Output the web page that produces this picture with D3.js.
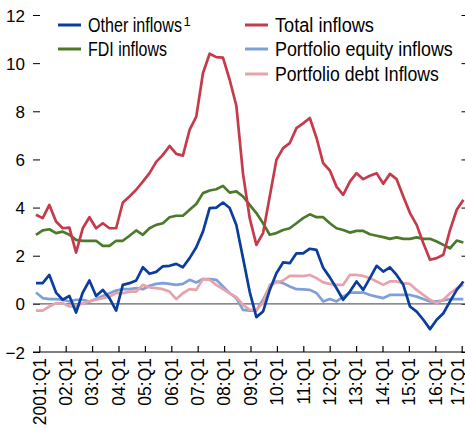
<!DOCTYPE html>
<html><head><meta charset="utf-8">
<script src="https://cdn.jsdelivr.net/npm/d3@7"></script>
<style>
html,body{margin:0;padding:0;background:#fff;}
svg text{font-family:"Liberation Sans",Arial,sans-serif;fill:#000;}
</style></head><body>
<svg id="chart" width="465" height="428"></svg>
<script>
// ---- data ----
const quarters = [];
for (let yr = 2001; yr <= 2017; yr++) for (let q = 1; q <= 4; q++) if (!(yr === 2017 && q > 1)) quarters.push(yr + ":Q" + q);
const tickLabels = ["2001:Q1","02:Q1","03:Q1","04:Q1","05:Q1","06:Q1","07:Q1","08:Q1","09:Q1","10:Q1","11:Q1","12:Q1","13:Q1","14:Q1","15:Q1","16:Q1","17:Q1"];
const yTicks = [-2,0,2,4,6,8,10,12];

const otherInflows = [0.86,0.86,1.20,0.47,0.17,0.33,-0.36,0.47,0.97,0.33, 0.58,0.24,-0.28,0.79,0.86,0.97,1.52,1.25,1.33,1.56, 1.58,1.66,1.52,1.90,2.35,3.00,3.98,4.00,4.21,3.98, 3.28,1.90,0.50,-0.55,-0.32,0.58,1.27,1.72,1.69,2.10, 2.10,2.29,2.24,1.50,1.10,0.65,0.17,0.51,0.93,0.58, 1.07,1.58,1.34,1.52,1.20,0.79,-0.11,-0.32,-0.66,-1.05, -0.66,-0.39,0.10,0.58,0.93];
const totalInflows = [3.70,3.56,4.11,3.42,3.14,3.17,2.13,3.14,3.60,3.14, 3.35,3.14,3.14,4.21,4.46,4.74,5.08,5.43,5.90,6.19, 6.56,6.23,6.16,7.23,7.78,9.58,10.39,10.25,10.23,9.31, 8.23,5.40,3.56,2.45,2.94,4.46,5.98,6.47,6.68,7.30, 7.50,7.72,6.90,5.85,5.54,4.87,4.53,5.08,5.43,5.18, 5.32,5.43,4.99,5.40,5.18,4.46,3.77,3.28,2.52,1.83, 1.90,2.04,3.07,3.91,4.32];
const fdiInflows = [2.87,3.05,3.10,2.94,3.00,2.87,2.66,2.62,2.62,2.62, 2.41,2.41,2.62,2.62,2.83,3.05,2.87,3.14,3.28,3.35, 3.60,3.66,3.66,3.91,4.15,4.60,4.71,4.76,4.90,4.62, 4.67,4.46,4.11,3.77,3.35,2.87,2.94,3.07,3.14,3.35, 3.56,3.72,3.60,3.60,3.35,3.14,3.07,2.96,3.03,3.03, 2.89,2.83,2.77,2.70,2.76,2.70,2.70,2.76,2.70,2.70, 2.59,2.45,2.31,2.63,2.55];
const equityInflows = [0.47,0.24,0.20,0.20,0.17,0.10,0.17,0.17,0.10,0.20, 0.33,0.44,0.55,0.61,0.61,0.65,0.61,0.75,0.83,0.86, 0.83,0.79,0.83,1.00,0.89,1.03,1.03,1.00,0.72,0.44, 0.24,-0.25,-0.28,-0.28,0.17,0.72,0.93,0.86,0.72,0.61, 0.60,0.58,0.45,0.10,0.20,0.10,0.30,0.47,0.47,0.47, 0.37,0.30,0.24,0.37,0.37,0.37,0.37,0.30,0.20,0.10, 0.10,0.14,0.20,0.20,0.20];
const debtInflows = [-0.28,-0.28,-0.11,0.03,0.03,-0.11,-0.11,0.03,0.10,0.17, 0.24,0.30,0.44,0.44,0.51,0.51,0.79,0.68,0.65,0.61, 0.51,0.20,0.44,0.61,0.58,1.03,1.00,0.79,0.61,0.44, 0.28,-0.04,-0.25,-0.25,0.03,0.79,0.89,0.97,1.16,1.16, 1.15,1.20,1.07,0.89,0.83,0.79,0.79,1.20,1.20,1.16, 1.07,0.93,0.79,0.93,0.93,0.86,0.83,0.58,0.37,0.17, 0.03,0.17,0.44,0.65,0.79];

const seriesNames = ["Other inflows","FDI inflows","Total inflows","Portfolio equity inflows","Portfolio debt Inflows"];
const seriesColors = ["#0a3d9c","#4b7b2a","#c63a4c","#7f9fd8","#e6a3ab"];

// ---- chart ----
const svg = d3.select("#chart");
const x = d3.scaleLinear().domain([0, quarters.length - 1]).range([36, 463.4]);
const xTick = d3.scaleLinear().domain([0, tickLabels.length - 1]).range([39.3, 461.7]);
const y = d3.scaleLinear().domain([-2, 12]).range([352, 15]);

// left axis
const yAxis = svg.append("g").attr("transform","translate(40,0)")
  .call(d3.axisLeft(y).tickValues(yTicks).tickSize(7).tickPadding(8)
    .tickFormat(d => d < 0 ? "\u2212" + Math.abs(d) : d));
yAxis.select(".domain").remove();
yAxis.selectAll("line").attr("stroke","#000");
yAxis.selectAll("text").style("font-size","17px").attr("dy","0.36em");

// right axis ticks
const yAxisR = svg.append("g").attr("transform","translate(461.5,0)")
  .call(d3.axisRight(y).tickValues(yTicks).tickSize(4).tickFormat(""));
yAxisR.select(".domain").remove();
yAxisR.selectAll("line").attr("stroke","#000");

// bottom axis
svg.append("line").attr("x1",33).attr("x2",465).attr("y1",y(-2)).attr("y2",y(-2))
  .attr("stroke","#000").attr("stroke-width",1.2);
const xAxis = svg.append("g").attr("transform","translate(0," + y(-2) + ")")
  .call(d3.axisBottom(xTick).tickValues(d3.range(tickLabels.length)).tickSizeInner(-6).tickSizeOuter(0).tickFormat(""));
xAxis.select(".domain").remove();
xAxis.selectAll("line").attr("stroke","#000").attr("stroke-width",1.2);

svg.append("g").selectAll("text").data(tickLabels).join("text")
  .attr("transform", (d,i) => "translate(" + Math.min(xTick(i), 457.5) + "," + (y(-2) + 6) + ") rotate(-90)")
  .attr("text-anchor","end").attr("dy","0.36em")
  .style("font-size","17.5px").text(d => d);

// zero line
svg.append("line").attr("x1",33).attr("x2",465).attr("y1",y(0)).attr("y2",y(0))
  .attr("stroke","#666").attr("stroke-width",1.3);

// lines
const line = d3.line().x((d,i) => x(i)).y(d => y(d));
const drawOrder = [
  [equityInflows, seriesColors[3]],
  [debtInflows, seriesColors[4]],
  [fdiInflows, seriesColors[1]],
  [totalInflows, seriesColors[2]],
  [otherInflows, seriesColors[0]]
];
svg.append("clipPath").attr("id","clip").append("rect").attr("x",33).attr("y",0).attr("width",432).attr("height",428);
const lg = svg.append("g").attr("clip-path","url(#clip)");
drawOrder.forEach(([vals, col]) => {
  lg.append("path").datum(vals).attr("d", line).attr("fill","none")
    .attr("stroke", col).attr("stroke-width", 2.7).attr("stroke-linejoin","round");
});

// legend (condensed text: horizontal scale fitted to the reference widths)
const legendItems = [
  {name: seriesNames[0], color: seriesColors[0], lx: 58, ty: 25, w: 94, sup: "1"},
  {name: seriesNames[1], color: seriesColors[1], lx: 58, ty: 49, w: 79},
  {name: seriesNames[2], color: seriesColors[2], lx: 245, ty: 25, w: 99},
  {name: seriesNames[3], color: seriesColors[3], lx: 245, ty: 49, w: 178},
  {name: seriesNames[4], color: seriesColors[4], lx: 245, ty: 74, w: 164}
];
const leg = svg.append("g");
legendItems.forEach(it => {
  leg.append("line").attr("x1", it.lx).attr("x2", it.lx + 23).attr("y1", it.ty).attr("y2", it.ty)
    .attr("stroke", it.color).attr("stroke-width", 3);
  const t = leg.append("text").attr("dy","0.36em").style("font-size","20.5px").text(it.name);
  const natural = t.node().getComputedTextLength();
  const sx = it.w / natural;
  t.attr("transform", "translate(" + (it.lx + 30) + "," + it.ty + ") scale(" + sx + ",1)");
  if (it.sup) leg.append("text").attr("x", it.lx + 30 + it.w + 1.5).attr("y", it.ty + 1)
    .style("font-size","13px").text(it.sup);
});
</script>
</body></html>
